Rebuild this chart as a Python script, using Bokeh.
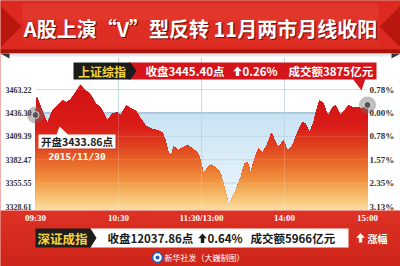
import numpy as np
from bokeh.plotting import figure
from bokeh.models import Range1d
from bokeh.core.properties import value
from bokeh.embed import file_html
from bokeh.resources import INLINE

# ---------------- data ----------------
title_text = "A股上演“V”型反转 11月两市月线收阳"
minutes = [0, 1, 8.5, 12.3, 14.5, 19.5, 22.4, 25.3, 28.9, 32.5,
           36.1, 38.3, 41.2, 43.4, 47, 52, 55.7, 59.3, 61.4, 65.8,
           68.7, 72.3, 75.9, 79.5, 83.1, 88.2, 91.8, 94, 96.1, 98.3,
           99.8, 103.4, 106.3, 109.9, 113.5, 117.1, 119.3, 121.4, 124.3, 127.2,
           130.8, 133.7, 135.9, 138.1, 139.5, 142.4, 145.3, 148.9, 151.1, 153.3,
           155.4, 159, 161.2, 164.1, 167, 170.6, 173.5, 175.7, 179.3, 182.2,
           185.8, 189.4, 193, 195.2, 198.1, 201, 203.1, 205.3, 208.2, 210.4,
           211.8, 214.7, 216.9, 220.5, 223.4, 226.3, 229.9, 233.5, 236.4, 240]
index_sh = [3433.9, 3454.4, 3424.1, 3439.1, 3442.5, 3450.6, 3448.3, 3451.7, 3459.8, 3469.0,
            3462.1, 3459.8, 3454.0, 3447.1, 3442.5, 3427.5, 3435.6, 3436.8, 3433.3, 3444.8,
            3441.4, 3439.1, 3429.9, 3421.8, 3418.4, 3416.1, 3413.7, 3404.5, 3389.6, 3387.3,
            3397.6, 3393.0, 3396.5, 3398.8, 3395.3, 3390.7, 3381.5, 3366.6, 3373.5, 3376.9,
            3372.3, 3366.6, 3355.1, 3340.1, 3330.9, 3339.0, 3349.3, 3364.3, 3378.1, 3379.2,
            3367.7, 3386.1, 3395.3, 3390.7, 3397.6, 3413.7, 3402.2, 3396.5, 3404.5, 3393.0,
            3398.8, 3413.7, 3425.3, 3424.1, 3413.7, 3425.3, 3439.1, 3450.6, 3447.1, 3436.8,
            3433.3, 3442.5, 3444.8, 3433.3, 3439.1, 3444.8, 3442.5, 3442.5, 3441.4, 3445.4]
prev_close = 3436.30
open_val = 3433.86
close_val = 3445.40
y_ticks = [3463.22, 3436.30, 3409.39, 3382.47, 3355.55, 3328.61]
y_tick_labels = ["3463.22", "3436.30", "3409.39", "3382.47", "3355.55", "3328.61"]
pct_labels = ["0.78%", "0.00%", "0.78%", "1.57%", "2.35%", "3.13%"]
time_ticks = [0, 60, 120, 180, 240]
time_labels = ["09:30", "10:30", "11:30/13:00", "14:00", "15:00"]
sh_name = "上证综指"
sh_close = "收盘3445.40点"
sh_chg = "0.26%"
sh_vol = "成交额3875亿元"
sz_name = "深证成指"
sz_close = "收盘12037.86点"
sz_chg = "0.64%"
sz_vol = "成交额5966亿元"
open_note = "开盘3433.86点"
date_note = "2015/11/30"
legend_note = "涨幅"
credit = "新华社发（大巍制图）"

# ---------------- layout ----------------
W, H = 400, 266
PL, PR = 35, 367            # plot area left/right in px
TOP_TICK_PX, BOT_TICK_PX = 89, 206
px_per_min = (PR - PL) / 240.0
px_per_pt = (BOT_TICK_PX - TOP_TICK_PX) / (y_ticks[0] - y_ticks[-1])
x0 = 0 - PL / px_per_min
x1 = 240 + (W - PR) / px_per_min
y1 = y_ticks[0] + TOP_TICK_PX / px_per_pt
y0 = y_ticks[-1] - (H - BOT_TICK_PX) / px_per_pt
def val_at_px(py):
    return y_ticks[0] - (py - TOP_TICK_PX) / px_per_pt
plot_top = val_at_px(57)
plot_bot = val_at_px(209.5)

CJK = value("Noto Sans CJK SC")
SERIF = value("Liberation Serif")
MONO = value("DejaVu Sans Mono")

p = figure(width=W, height=H, x_range=Range1d(x0, x1), y_range=Range1d(y0, y1),
           output_backend="svg", toolbar_location=None, min_border=0,
           x_axis_location=None, y_axis_location=None,
           background_fill_color="#d52a1f", border_fill_color="#d52a1f",
           outline_line_color=None)
p.grid.visible = False
p.extra_x_ranges = {"px": Range1d(0, W)}
p.extra_y_ranges = {"px": Range1d(H, 0)}
PX = dict(x_range_name="px", y_range_name="px")

def hex2rgb(h):
    h = h.lstrip("#")
    return np.array([int(h[i:i + 2], 16) for i in (0, 2, 4)], float)

def grad(stops, v):
    vs = [s[0] for s in stops]
    cs = np.array([hex2rgb(s[1]) for s in stops])
    rgb = [np.interp(v, vs, cs[:, k]) for k in range(3)]
    return "#%02x%02x%02x" % tuple(int(round(c)) for c in rgb)

def pquad(l, r, t, b, color, alpha=1.0):
    p.quad(left=[l], right=[r], top=[t], bottom=[b], fill_color=color,
           fill_alpha=alpha, line_color=None, **PX)

def ppatch(pts, color, alpha=1.0):
    p.patch([q[0] for q in pts], [q[1] for q in pts], fill_color=color,
            fill_alpha=alpha, line_color=None, **PX)

def ptext(x, y, s, size, color, font=CJK, bold=True, align="left", alpha=1.0):
    p.text(x=[x], y=[y], text=[s], text_font=font, text_font_size=f"{size}px",
           text_font_style="bold" if bold else "normal", text_color=color,
           text_align=align, text_baseline="middle", text_alpha=alpha, **PX)

def arrow(cx, ty, color, s=1.0):
    pts = [(cx, ty), (cx + 4.3 * s, ty + 4.7 * s), (cx + 1.7 * s, ty + 4.7 * s),
           (cx + 1.7 * s, ty + 9.5 * s), (cx - 1.7 * s, ty + 9.5 * s),
           (cx - 1.7 * s, ty + 4.7 * s), (cx - 4.3 * s, ty + 4.7 * s)]
    ppatch(pts, color)

# ---------- bottom red band shading ----------
for i in range(8):
    t = 210 + i * 7
    pquad(0, W, t, t + 7.5, grad([(0, "#dc3124"), (1, "#cf2419")], i / 7))

# ---------- title band ----------
pquad(0, W, 0, 53, "#b9160f")
ppatch([(0, 0), (W, 0), (W, 5), (379, 26), (W, 47), (W, 49), (0, 49), (0, 47),
        (21, 26), (0, 5)], "#dc2a20")
pquad(22, 378, 3, 47, "#e03126", 0.55)
pquad(22, 378, 3, 20, "#e8493a", 0.35)
pquad(0, W, 49, 53, "#a8130d")
# white panel
pquad(0, W, 53, 210, "#ffffff")
pquad(0, W, 53, 56, "#d8d8d8", 0.6)
ppatch([(0, 53), (9, 53), (9, 58)], "#333333")
ppatch([(W, 53), (W - 9, 53), (W - 9, 58)], "#333333")

ptext(201.2, 29.2, title_text, 20, "#7d0a06", align="center")
ptext(200, 28, title_text, 20, "#ffffff", align="center")

# ---------- plot background ----------
blue_stops = [(plot_bot, "#edf6fb"), (prev_close, "#c9e3f4")]
levels_b = np.linspace(plot_bot, prev_close, 25)
for a, b in zip(levels_b[:-1], levels_b[1:]):
    p.quad(left=[0], right=[240], bottom=[a], top=[b + 0.3], fill_color=grad(blue_stops, (a + b) / 2),
           line_color=None)
tick_grid = [t for t in y_ticks if t != prev_close]
p.segment(x0=[0] * len(tick_grid), x1=[240] * len(tick_grid), y0=tick_grid, y1=tick_grid,
          line_color="#a9c7d9", line_alpha=0.6, line_width=1)
vgrid = time_ticks[1:-1]
p.segment(x0=vgrid, x1=vgrid, y0=[plot_bot] * 3, y1=[plot_top] * 3,
          line_color="#a9c7d9", line_alpha=0.8, line_width=1)
p.line([0, 240], [prev_close, prev_close], line_color="#95b8cc", line_width=1.3)

# ---------- gradient area fill ----------
fine_t = np.linspace(0, 240, 961)
fine_v = np.interp(fine_t, minutes, index_sh)
fill_stops = [(plot_bot, "#fbdd9f"), (3345, "#f5b463"), (3360, "#f0903d"),
              (3380, "#e8672a"), (3400, "#df3f1f"), (3420, "#d81d18"), (3475, "#d20f14")]
levels = np.arange(plot_bot + 1.8, max(index_sh) + 2, 1.8)
for yb in levels[::-1]:
    p.varea(x=fine_t, y1=plot_bot, y2=np.minimum(fine_v, yb),
            fill_color=grad(fill_stops, yb - 0.9))
# faint grid over fill
p.segment(x0=vgrid, x1=vgrid, y0=[plot_bot] * 3, y1=[plot_top] * 3,
          line_color="#ffffff", line_alpha=0.18, line_width=1)
p.segment(x0=[0] * len(tick_grid), x1=[240] * len(tick_grid), y0=tick_grid, y1=tick_grid,
          line_color="#ffffff", line_alpha=0.12, line_width=1)

# markers at open and close
p.scatter(x=[0, 240], y=[open_val, close_val], size=17, fill_color="#6f6f6f",
          fill_alpha=0.45, line_color=None)
p.scatter(x=[0, 240], y=[open_val, close_val], size=7, fill_color="#555555",
          line_color="#dddddd", line_width=1)

# ---------- axis labels ----------
p.text(x=[5] * len(y_ticks), y=y_ticks, text=y_tick_labels, text_font=SERIF,
       text_font_size="8px", text_font_style="bold", text_color="#333333",
       text_align="left", text_baseline="middle", x_range_name="px")
p.text(x=[369] * len(y_ticks), y=y_ticks, text=pct_labels, text_font=SERIF,
       text_font_size="9px", text_font_style="bold", text_color="#333333",
       text_align="left", text_baseline="middle", x_range_name="px")
p.text(x=time_ticks, y=[217] * len(time_ticks), text=time_labels, text_font=SERIF,
       text_font_size="9px", text_font_style="bold", text_color="#ffffff",
       text_align="center", text_baseline="middle", y_range_name="px")

# ---------- top banner ----------
pquad(128, 376, 62, 79, "#d6141c")
ppatch([(352, 78), (361, 90), (365, 78)], "#d6141c")
ppatch([(73, 62), (130, 62), (136, 70.5), (130, 79), (73, 79)], "#1c1c1c")
ptext(101.5, 70.5, sh_name, 12, "#f3d53c", align="center")
ptext(145, 70.5, sh_close, 11.5, "#ffffff")
arrow(237, 66, "#ffffff")
ptext(242, 70.5, sh_chg, 11.5, "#ffffff")
ptext(288, 70.5, sh_vol, 11.5, "#ffffff")

# ---------- open bubble ----------
pquad(39, 116, 135, 149, "#9a1a10", 0.35)
ppatch([(56, 134.5), (59, 126), (68, 134.5)], "#ffffff")
pquad(38, 115, 134, 148, "#ffffff")
ptext(76.5, 141, open_note, 10.5, "#222222", align="center")
ptext(76.5, 156, date_note, 9.5, "#ffffff", font=MONO, align="center")

# ---------- bottom banner ----------
pquad(90, 348, 228, 247, "#ffffff")
ppatch([(35, 228), (90, 228), (96, 237.5), (90, 247), (35, 247)], "#1e1e1e")
ptext(62, 237.5, sz_name, 12.5, "#f3d53c", align="center")
ptext(107, 237.5, sz_close, 11.5, "#1a1a1a")
arrow(202, 233, "#1a1a1a")
ptext(207, 237.5, sz_chg, 11.5, "#1a1a1a")
ptext(250, 237.5, sz_vol, 11.5, "#1a1a1a")
arrow(360, 232.5, "#ffffff")
ptext(367, 237.5, legend_note, 10, "#ffffff")

# ---------- credit ----------
p.scatter(x=[157], y=[257], size=10, fill_color="#ffffff", line_color="#1f5fb5",
          line_width=1.5, **PX)
p.scatter(x=[157], y=[257], size=4, fill_color="#1f5fb5", line_color=None, **PX)
ptext(164, 257, credit, 8, "#ffffff", bold=False)

open("out.html", "w").write(file_html(p, INLINE))
